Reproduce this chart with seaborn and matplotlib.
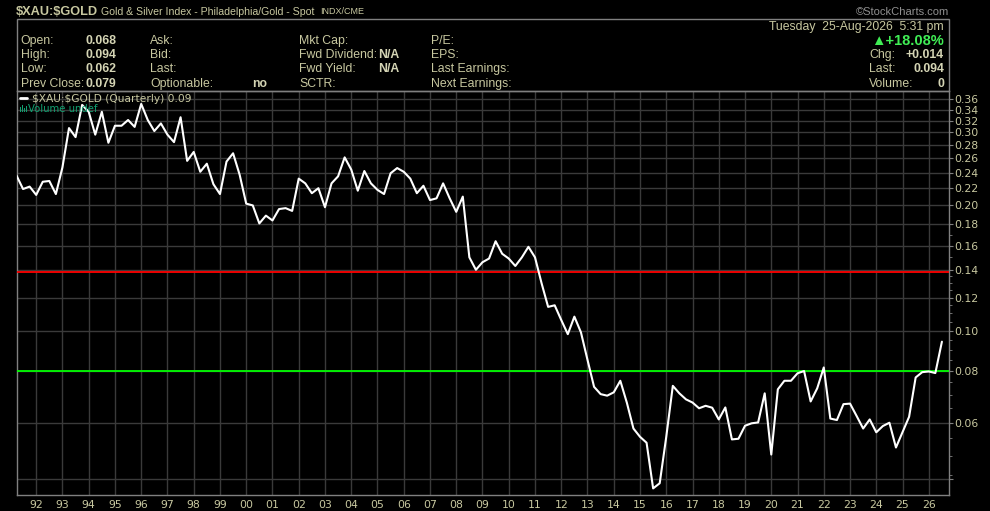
# $XAU:$GOLD quarterly ratio chart, StockCharts style
import pandas as pd
import matplotlib
matplotlib.use('Agg')
import matplotlib.pyplot as plt
import seaborn as sns
from matplotlib.lines import Line2D
from matplotlib.patches import Rectangle
from matplotlib.ticker import FixedLocator, NullFormatter

# quarterly closes, 1991Q2 .. 2026Q3
start_quarter = '1991Q2'
end_quarter = '2026Q3'
closes = [
    0.236,
    0.219, 0.222, 0.212, 0.228, 0.229, 0.213, 0.247, 0.307, 0.292, 0.349,
    0.336, 0.296, 0.336, 0.283, 0.311, 0.311, 0.321, 0.309, 0.351, 0.321,
    0.302, 0.315, 0.296, 0.284, 0.326, 0.256, 0.269, 0.241, 0.252, 0.225,
    0.213, 0.255, 0.267, 0.237, 0.202, 0.200, 0.181, 0.189, 0.184, 0.196,
    0.197, 0.194, 0.232, 0.226, 0.214, 0.220, 0.198, 0.226, 0.235, 0.261,
    0.244, 0.217, 0.242, 0.226, 0.218, 0.213, 0.239, 0.246, 0.241, 0.232,
    0.214, 0.223, 0.206, 0.208, 0.226, 0.208, 0.193, 0.210, 0.150, 0.140,
    0.146, 0.149, 0.164, 0.153, 0.149, 0.143, 0.150, 0.159, 0.150, 0.130,
    0.114, 0.115, 0.106, 0.098, 0.108, 0.099, 0.085, 0.0732, 0.0703, 0.0697,
    0.0710, 0.0757, 0.0670, 0.0581, 0.0555, 0.0537, 0.0417, 0.0429, 0.0555, 0.0736,
    0.0706, 0.0683, 0.0671, 0.0650, 0.0659, 0.0652, 0.0611, 0.0653, 0.0547, 0.0549,
    0.0590, 0.0598, 0.0601, 0.0706, 0.0503, 0.0722, 0.0757, 0.0757, 0.0789, 0.0799,
    0.0675, 0.0726, 0.0815, 0.0614, 0.0609, 0.0665, 0.0667, 0.0623, 0.0581, 0.0611,
    0.0569, 0.0589, 0.0600, 0.0523, 0.0569, 0.0620, 0.0771, 0.0794, 0.0797, 0.0790,
    0.094,
]

red_level = 0.138
green_level = 0.08

y_ticks = [0.36, 0.34, 0.32, 0.30, 0.28, 0.26, 0.24, 0.22, 0.20, 0.18, 0.16,
           0.14, 0.12, 0.10, 0.08, 0.06, 0.044]
y_labels = ['0.36', '0.34', '0.32', '0.30', '0.28', '0.26', '0.24', '0.22',
            '0.20', '0.18', '0.16', '0.14', '0.12', '0.10', '0.08', '0.06', '']
y_minor = [0.045, 0.05, 0.055, 0.065, 0.07, 0.075, 0.085, 0.09, 0.095, 0.105,
           0.11, 0.115, 0.125, 0.13, 0.135, 0.15, 0.17]
years = list(range(1992, 2027))

header_left = [
    (20.7, ['Open:', 'High:', 'Low:', 'Prev Close:']),
    (150, ['Ask:', 'Bid:', 'Last:', 'Optionable:']),
    (299.3, ['Mkt Cap:', 'Fwd Dividend:', 'Fwd Yield:', 'SCTR:']),
    (431, ['P/E:', 'EPS:', 'Last Earnings:', 'Next Earnings:']),
]
header_bold = [
    (85.7, ['0.068', '0.094', '0.062', '0.079']),
    (251.7, ['', '', '', 'no']),
    (378.3, ['', 'N/A', 'N/A', '']),
]
right_labels = ['Chg:', 'Last:', 'Volume:']
right_values = ['+0.014', '0.094', '0']

# ---- data frame
periods = pd.period_range(start_quarter, end_quarter, freq='Q')
df = pd.DataFrame({
    'date': periods.year + (periods.quarter - 1) / 4.0,
    'close': closes,
})

sns.set_style('dark')
plt.rcParams['font.family'] = ['DejaVu Sans']

W, H = 990, 511
fig = plt.figure(figsize=(W / 100, H / 100), dpi=100, facecolor='black')
ax = fig.add_axes([16.5 / W, 16 / H, (949 - 16.5) / W, (495 - 91) / H])
ax.set_facecolor('black')

TXT = '#c8c8a0'
GRID = '#3a3a3a'
EDGE = '#808080'
VOL = '#10a070'

sns.lineplot(data=df, x='date', y='close', color='white', lw=1.5, ax=ax, zorder=4)
ax.axhline(red_level, color='#ff0000', lw=1.3, zorder=3)
ax.axhline(green_level, color='#00ff00', lw=1.3, zorder=3)

ax.set_yscale('log')
ax.set_xlim(1991.43, 2026.77)
ax.set_ylim(0.0402, 0.377)

ax.yaxis.tick_right()
ax.yaxis.set_major_locator(FixedLocator(y_ticks))
ax.set_yticklabels(y_labels)
ax.yaxis.set_minor_locator(FixedLocator(y_minor))
ax.yaxis.set_minor_formatter(NullFormatter())

ax.set_xticks(years)
ax.set_xticklabels([f'{y % 100:02d}' for y in years])
ax.set_xticks([y + q / 4 for y in range(1991, 2027) for q in (1, 2, 3)], minor=True)

ax.grid(True, which='major', color=GRID, lw=1, zorder=1)
ax.grid(False, which='minor')
ax.tick_params(axis='both', which='both', colors=EDGE, labelcolor=TXT, labelsize=7.8)
ax.tick_params(axis='y', which='major', length=3, pad=1)
ax.tick_params(axis='y', which='minor', length=2)
ax.tick_params(axis='x', which='major', length=2, pad=1.5)
ax.tick_params(axis='x', which='minor', length=1.5)
ax.set_xlabel('')
ax.set_ylabel('')
for sp in ax.spines.values():
    sp.set_color(EDGE)
    sp.set_linewidth(1)


def fx(x):
    return x / W


def fy(y):
    return 1 - y / H


SANS = ['Liberation Sans', 'DejaVu Sans']

# title line
fig.text(fx(16), fy(11.7), r'\$XAU:\$GOLD', color=TXT, fontsize=9.2, fontweight='bold',
         family=SANS, va='center', ha='left')
fig.text(fx(101), fy(11.7), 'Gold & Silver Index - Philadelphia/Gold - Spot', color=TXT,
         fontsize=7.6, family=SANS, va='center', ha='left')
fig.text(fx(320.5), fy(12), 'INDX/CME', color=TXT, fontsize=6.5, family=SANS,
         va='center', ha='left')
fig.text(fx(949), fy(11.7), '\u00a9StockCharts.com', color='#909090', fontsize=8,
         family=SANS, va='center', ha='right')

# header box
fig.add_artist(Rectangle((fx(16.5), fy(91)), (949 - 16.5) / W, (91 - 19.3) / H,
                         transform=fig.transFigure, fill=False, edgecolor=EDGE, lw=1))

rows = [40.7, 55, 69.3, 84.3]
for x, labels in header_left:
    for y, lab in zip(rows, labels):
        fig.text(fx(x), fy(y), lab, color=TXT, fontsize=8.8, family=SANS,
                 va='center', ha='left')
for x, labels in header_bold:
    for y, lab in zip(rows, labels):
        fig.text(fx(x), fy(y), lab, color='#d4d4b4', fontsize=8.8, fontweight='bold',
                 family=SANS, va='center', ha='left')

fig.text(fx(944), fy(26.7), 'Tuesday  25-Aug-2026  5:31 pm', color=TXT, fontsize=8.8,
         family=SANS, va='center', ha='right')
fig.text(fx(944), fy(40.7), '\u25b2+18.08%', color='#40ee55', fontsize=10.5,
         fontweight='bold', family=SANS, va='center', ha='right')
for y, lab, val in zip(rows[1:], right_labels, right_values):
    fig.text(fx(869.3), fy(y), lab, color=TXT, fontsize=8.8, family=SANS,
             va='center', ha='left')
    fig.text(fx(944), fy(y), val, color='#d4d4b4', fontsize=8.8, fontweight='bold',
             family=SANS, va='center', ha='right')

# in-plot legend
fig.add_artist(Line2D([fx(20), fx(27)], [fy(98), fy(98)], color='white', lw=2,
                      transform=fig.transFigure))
fig.text(fx(32), fy(98.5), r'\$XAU:\$GOLD (Quarterly) 0.09', color=TXT, fontsize=7.7,
         va='center', ha='left')
# little volume icon
for bx, bh in zip([19.5, 21.5, 23.5, 25.5], [5, 7, 4, 6]):
    fig.add_artist(Rectangle((fx(bx), fy(112)), 1.4 / W, bh / H, transform=fig.transFigure,
                             facecolor=VOL, edgecolor='none'))
fig.text(fx(28.5), fy(108.5), 'Volume undef', color=VOL, fontsize=7.3,
         va='center', ha='left')

fig.savefig('out.png', dpi=100, facecolor='black')
